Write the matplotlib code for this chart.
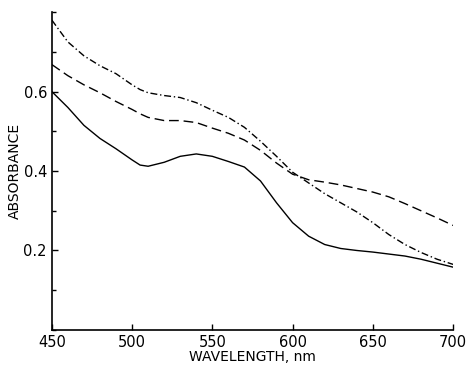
import matplotlib
matplotlib.use("Agg")
import matplotlib.pyplot as plt
from matplotlib.ticker import MultipleLocator

# absorbance spectra
wavelength = [450, 460, 470, 480, 490, 500, 505, 510, 520, 530, 540, 550, 560, 570,
              580, 590, 600, 610, 620, 630, 640, 650, 660, 670, 680, 690, 700]
solid = [0.600, 0.560, 0.515, 0.482, 0.456, 0.428, 0.415, 0.412, 0.422, 0.437, 0.443,
         0.437, 0.424, 0.410, 0.375, 0.320, 0.270, 0.236, 0.215, 0.205, 0.200,
         0.196, 0.191, 0.186, 0.178, 0.168, 0.158]
dashed = [0.668, 0.640, 0.617, 0.597, 0.575, 0.555, 0.544, 0.535, 0.527, 0.527, 0.522,
          0.508, 0.495, 0.478, 0.452, 0.420, 0.392, 0.378, 0.372, 0.365, 0.356,
          0.347, 0.335, 0.318, 0.300, 0.282, 0.263]
dashdot = [0.780, 0.725, 0.690, 0.665, 0.645, 0.617, 0.605, 0.597, 0.590, 0.585, 0.572,
           0.553, 0.535, 0.510, 0.475, 0.437, 0.397, 0.370, 0.343, 0.320, 0.297,
           0.270, 0.240, 0.215, 0.195, 0.178, 0.165]

xticks = [450, 500, 550, 600, 650, 700]
yticks = [0.2, 0.4, 0.6]

plt.rcParams['font.family'] = ['DejaVu Sans']
fig = plt.figure(figsize=(4.71, 3.67), dpi=100)
ax = fig.add_axes([0.110, 0.101, 0.852, 0.866])

ax.plot(wavelength, solid, color='black', lw=1.0, ls='-')
ax.plot(wavelength, dashed, color='black', lw=1.0, ls=(0, (7, 3.5)))
ax.plot(wavelength, dashdot, color='black', lw=1.0, ls=(0, (5, 2, 1, 2)))

ax.set_xlim(450, 700)
ax.set_ylim(0, 0.8)
ax.set_xticks(xticks)
ax.set_yticks(yticks)
ax.set_yticklabels(['0.2', '0.4', '0.6'])
ax.yaxis.set_minor_locator(MultipleLocator(0.1))
ax.tick_params(direction='in', length=4, width=1, labelsize=10.5, colors='black')
ax.tick_params(which='minor', direction='in', length=3, width=1)

for s in ['top', 'right']:
    ax.spines[s].set_visible(False)
for s in ['left', 'bottom']:
    ax.spines[s].set_linewidth(1.2)

ax.set_xlabel('WAVELENGTH, nm', fontsize=10, labelpad=0)
ax.set_ylabel('ABSORBANCE', fontsize=10, labelpad=1)

fig.savefig('out.png', dpi=100)
